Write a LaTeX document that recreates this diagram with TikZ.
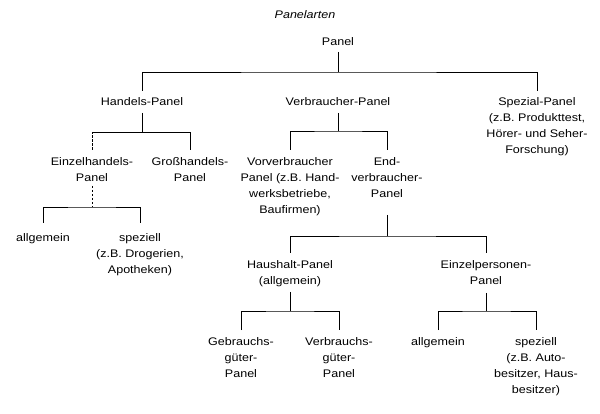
\documentclass[tikz,border=0pt]{standalone}
\usepackage{fontspec}
\setmainfont{Liberation Sans}[FakeStretch=1.14]
\begin{document}
\begin{tikzpicture}[x=1pt,y=-1pt,
  lbl/.style={anchor=north,inner sep=0pt,outer sep=0pt,align=center,font=\fontsize{11}{16}\selectfont},
  conn/.style={line width=0.85pt},
  dsh/.style={conn,dash pattern=on 2.5pt off 1.5pt}]
\useasboundingbox (0,0) rectangle (600,414);
\fill[white] (0,0) rectangle (600,414);
% nodes
\node[lbl,font=\fontsize{11}{16}\selectfont\itshape] (title) at (305,11) {Panelarten};
\node[lbl] (panel) at (338,38) {Panel};
\node[lbl] (handels) at (142,98) {Handels-Panel};
\node[lbl] (verbr) at (338,98) {Verbraucher-Panel};
\node[lbl] (spezial) at (537,98) {Spezial-Panel\\(z.B. Produkttest,\\Hörer- und Seher-\\Forschung)};
\node[lbl] (einzel) at (92,158) {Einzelhandels-\\Panel};
\node[lbl] (gross) at (190,158) {Großhandels-\\Panel};
\node[lbl] (vorv) at (290,158) {Vorverbraucher\\Panel (z.B. Hand-\\werksbetriebe,\\Baufirmen)};
\node[lbl] (endv) at (387,158) {End-\\verbraucher-\\Panel};
\node[lbl] (allg1) at (43,234) {allgemein};
\node[lbl] (spez1) at (140,234) {speziell\\(z.B. Drogerien,\\Apotheken)};
\node[lbl] (haush) at (290,261) {Haushalt-Panel\\(allgemein)};
\node[lbl] (einzp) at (486,261) {Einzelpersonen-\\Panel};
\node[lbl] (gebr) at (241,338) {Gebrauchs-\\güter-\\Panel};
\node[lbl] (verbrg) at (339,338) {Verbrauchs-\\güter-\\Panel};
\node[lbl] (allg2) at (438,338) {allgemein};
\node[lbl] (spez2) at (536,338) {speziell\\(z.B. Auto-\\besitzer, Haus-\\besitzer)};
% connectors
\draw[conn] (panel.south |- 0,52) -- (panel.south |- 0,72);
\draw[conn] (handels.north |- 0,91) |- (panel.south |- 0,72) -| (spezial.north |- 0,91);
\draw[conn] (handels.south |- 0,113) -- (handels.south |- 0,132);
\draw[dsh] (einzel.north |- 0,150) -- (einzel.north |- 0,132);
\draw[conn] (einzel.north |- 0,132) -| (gross.north |- 0,150);
\draw[conn] (verbr.south |- 0,113) -- (verbr.south |- 0,131);
\draw[conn] (vorv.north |- 0,150) |- (verbr.south |- 0,131) -| (endv.north |- 0,150);
\draw[dsh] (einzel.south |- 0,186) -- (einzel.south |- 0,207);
\draw[conn] (allg1.north |- 0,223) |- (einzel.south |- 0,207) -| (spez1.north |- 0,223);
\draw[conn] (endv.south |- 0,215) -- (endv.south |- 0,236);
\draw[conn] (haush.north |- 0,253) |- (endv.south |- 0,236) -| (einzp.north |- 0,253);
\draw[conn] (haush.south |- 0,292) -- (haush.south |- 0,311);
\draw[conn] (gebr.north |- 0,330) |- (haush.south |- 0,311) -| (verbrg.north |- 0,330);
\draw[conn] (einzp.south |- 0,293) -- (einzp.south |- 0,311);
\draw[conn] (allg2.north |- 0,330) |- (einzp.south |- 0,311) -| (spez2.north |- 0,330);
\end{tikzpicture}
\end{document}
